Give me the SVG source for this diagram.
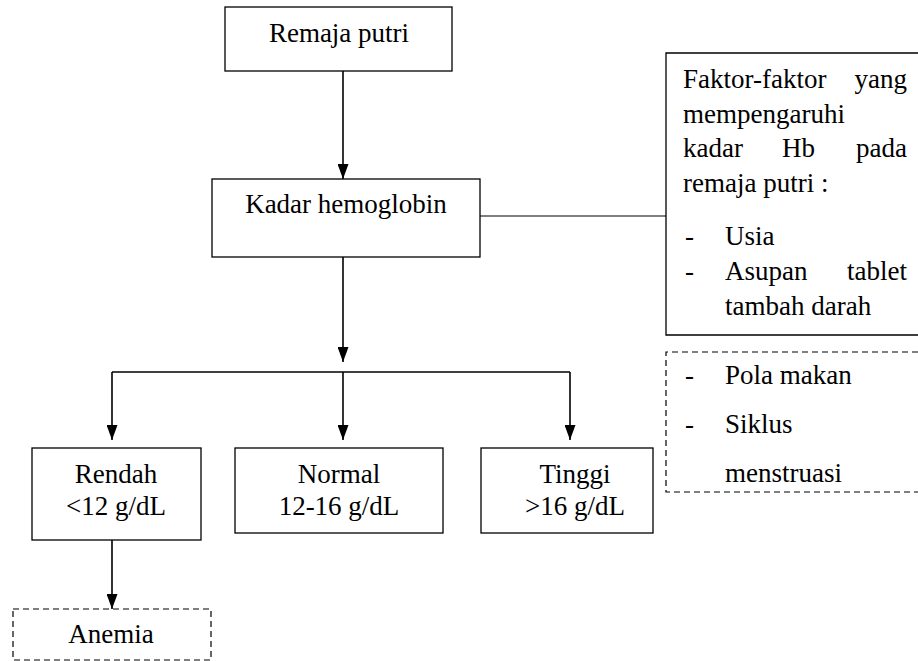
<svg xmlns="http://www.w3.org/2000/svg" width="918" height="661" viewBox="0 0 918 661">
<style>
.box{fill:#fff;stroke:#000;stroke-width:1.3}
.dash{fill:none;stroke:#000;stroke-width:1.2;stroke-dasharray:6 4}
text{font-family:'Liberation Serif',Tinos,'Times New Roman',Times,serif;font-size:27px;fill:#000}
.c{text-anchor:middle}
.e{text-anchor:end}
.ln{fill:none;stroke:#000;stroke-width:1.6}
</style>
<defs>
<marker id="ah" markerWidth="15" markerHeight="11" refX="15" refY="5.5" viewBox="0 0 15 11" orient="auto" markerUnits="userSpaceOnUse">
<path d="M0,0 L15,5.5 L0,11 Z" fill="#000"/>
</marker>
</defs>
<rect width="918" height="661" fill="#fff"/>
<g id="connectors">
<line class="ln" x1="343" y1="71" x2="343" y2="179" marker-end="url(#ah)"/>
<line class="ln" x1="343" y1="257" x2="343" y2="362" marker-end="url(#ah)"/>
<line class="ln" x1="112" y1="372" x2="570" y2="372"/>
<line class="ln" x1="112" y1="372" x2="112" y2="440" marker-end="url(#ah)"/>
<line class="ln" x1="343" y1="372" x2="343" y2="440" marker-end="url(#ah)"/>
<line class="ln" x1="570" y1="372" x2="570" y2="440" marker-end="url(#ah)"/>
<line class="ln" x1="112" y1="540" x2="112" y2="609" marker-end="url(#ah)"/>
<line x1="480" y1="216" x2="666" y2="216" stroke="#000" stroke-width="1.2"/>
</g>
<g id="remaja">
<rect class="box" x="225" y="7" width="227" height="64"/>
<text class="c" x="339" y="42">Remaja putri</text>
</g>
<g id="kadar">
<rect class="box" x="212" y="179" width="268" height="78"/>
<text class="c" x="346" y="213">Kadar hemoglobin</text>
</g>
<g id="faktor">
<path d="M918,53 H666 V335 H918" fill="#fff" stroke="#000" stroke-width="1.3"/>
<text x="683" y="88">Faktor-faktor</text>
<text class="e" x="907" y="88">yang</text>
<text x="683" y="123">mempengaruhi</text>
<text x="683" y="157">kadar</text>
<text x="782" y="157">Hb</text>
<text class="e" x="907" y="157">pada</text>
<text x="683" y="192">remaja putri :</text>
<text x="685" y="245">-</text>
<text x="725" y="245">Usia</text>
<text x="685" y="280">-</text>
<text x="725" y="280">Asupan</text>
<text class="e" x="907" y="280">tablet</text>
<text x="725" y="315">tambah darah</text>
</g>
<g id="faktor-lain">
<path class="dash" d="M918,352 H666 V492 H918"/>
<text x="685" y="384">-</text>
<text x="725" y="384">Pola makan</text>
<text x="685" y="433">-</text>
<text x="725" y="433">Siklus</text>
<text x="725" y="482">menstruasi</text>
</g>
<g id="rendah">
<rect class="box" x="32" y="448" width="169" height="92"/>
<text class="c" x="116" y="483">Rendah</text>
<text class="c" x="116" y="515">&lt;12 g/dL</text>
</g>
<g id="normal">
<rect class="box" x="235" y="448" width="208" height="85"/>
<text class="c" x="339" y="483">Normal</text>
<text class="c" x="339" y="515">12-16 g/dL</text>
</g>
<g id="tinggi">
<rect class="box" x="481" y="448" width="172" height="85"/>
<text class="c" x="575" y="483">Tinggi</text>
<text class="c" x="575" y="515">&gt;16 g/dL</text>
</g>
<g id="anemia">
<rect class="dash" x="13" y="609" width="198" height="51"/>
<text class="c" x="111" y="643">Anemia</text>
</g>
</svg>
